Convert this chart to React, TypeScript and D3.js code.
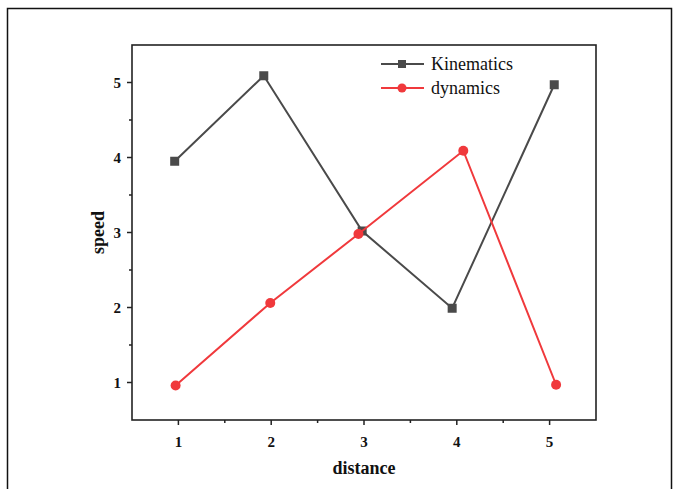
import * as d3 from "d3";
import React from "react";

// ---- data ----
const kinX = [0.96, 1.92, 2.98, 3.95, 5.05];
const kinY = [3.95, 5.09, 3.02, 1.99, 4.97];
const dynX = [0.97, 1.99, 2.94, 4.07, 5.07];
const dynY = [0.96, 2.06, 2.98, 4.09, 0.97];
const xTicks = [1, 2, 3, 4, 5];
const yTicks = [1, 2, 3, 4, 5];
const xMinor = [1.5, 2.5, 3.5, 4.5];
const yMinor = [1.5, 2.5, 3.5, 4.5];

const W = 679;
const H = 489;
const m = { left: 132, top: 45, right: 596, bottom: 420 };
const FONT = "'Liberation Serif', 'Times New Roman', serif";
const GRAY = "#4a4a4a";
const RED = "#f0393c";

export default function App() {
  const x = d3.scaleLinear().domain([0.5, 5.5]).range([m.left, m.right]);
  const y = d3.scaleLinear().domain([0.5, 5.5]).range([m.bottom, m.top]);

  const line = d3
    .line<[number, number]>()
    .x((d) => x(d[0]))
    .y((d) => y(d[1]));

  const kin = kinX.map((v, i) => [v, kinY[i]] as [number, number]);
  const dyn = dynX.map((v, i) => [v, dynY[i]] as [number, number]);

  return (
    <svg
      width={W}
      height={H}
      style={{ position: "absolute", left: 0, top: 0, background: "#fff" }}
      fontFamily={FONT}
    >
      {/* outer frame */}
      <path d={`M7.5,${H} V8.5 H671.5 V${H}`} fill="none" stroke="#111" strokeWidth={1.5} />

      {/* plot box */}
      <rect
        x={m.left}
        y={m.top}
        width={m.right - m.left}
        height={m.bottom - m.top}
        fill="none"
        stroke="#222"
        strokeWidth={1.6}
      />

      {/* x ticks */}
      {xTicks.map((t) => (
        <g key={"xt" + t}>
          <line x1={x(t)} x2={x(t)} y1={m.bottom} y2={m.bottom + 5} stroke="#222" strokeWidth={1.5} />
          <text x={x(t)} y={m.bottom + 27} textAnchor="middle" fontSize={15} fontWeight="bold" fill="#111">
            {t}
          </text>
        </g>
      ))}
      {xMinor.map((t) => (
        <line key={"xm" + t} x1={x(t)} x2={x(t)} y1={m.bottom} y2={m.bottom + 3} stroke="#222" strokeWidth={1.5} />
      ))}

      {/* y ticks */}
      {yTicks.map((t) => (
        <g key={"yt" + t}>
          <line x1={m.left} x2={m.left - 5} y1={y(t)} y2={y(t)} stroke="#222" strokeWidth={1.5} />
          <text x={m.left - 11} y={y(t)} dy="0.35em" textAnchor="end" fontSize={15} fontWeight="bold" fill="#111">
            {t}
          </text>
        </g>
      ))}
      {yMinor.map((t) => (
        <line key={"ym" + t} x1={m.left} x2={m.left - 3} y1={y(t)} y2={y(t)} stroke="#222" strokeWidth={1.5} />
      ))}

      {/* axis titles */}
      <text x={(m.left + m.right) / 2} y={474} textAnchor="middle" fontSize={18} fontWeight="bold" fill="#111">
        distance
      </text>
      <text
        transform={`translate(104,${(m.top + m.bottom) / 2}) rotate(-90)`}
        textAnchor="middle"
        fontSize={18}
        fontWeight="bold"
        fill="#111"
      >
        speed
      </text>

      {/* series */}
      <path d={line(kin) ?? ""} fill="none" stroke={GRAY} strokeWidth={2} />
      {kin.map((d, i) => (
        <rect key={"k" + i} x={x(d[0]) - 4.5} y={y(d[1]) - 4.5} width={9} height={9} fill={GRAY} />
      ))}
      <path d={line(dyn) ?? ""} fill="none" stroke={RED} strokeWidth={2} />
      {dyn.map((d, i) => (
        <circle key={"d" + i} cx={x(d[0])} cy={y(d[1])} r={5} fill={RED} />
      ))}

      {/* legend */}
      <g>
        <line x1={381} x2={424} y1={64} y2={64} stroke={GRAY} strokeWidth={2} />
        <rect x={398} y={60} width={8} height={8} fill={GRAY} />
        <text x={431} y={64} dy="0.35em" fontSize={18} fill="#111">
          Kinematics
        </text>
        <line x1={381} x2={424} y1={88} y2={88} stroke={RED} strokeWidth={2} />
        <circle cx={402} cy={88} r={4.5} fill={RED} />
        <text x={431} y={88} dy="0.35em" fontSize={18} fill="#111">
          dynamics
        </text>
      </g>
    </svg>
  );
}
